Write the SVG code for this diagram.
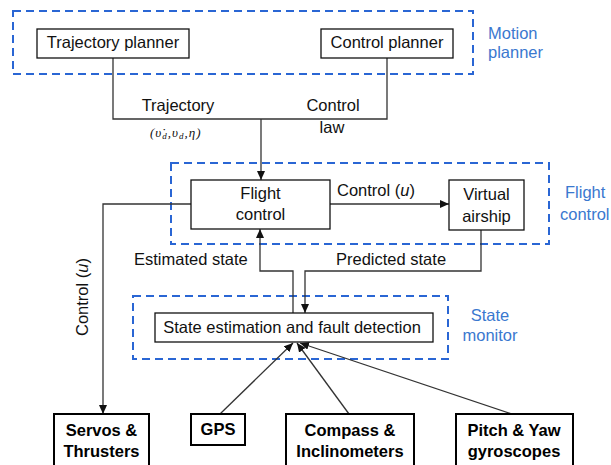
<svg xmlns="http://www.w3.org/2000/svg" width="611" height="465" viewBox="0 0 611 465">
<style>
text{font-family:"Liberation Sans",Arial,sans-serif;font-size:16.5px;fill:#111}
.mid{text-anchor:middle}
.bold{font-weight:bold;fill:#000}
.blue{fill:#3a78cf}
.group{fill:none;stroke:#2a66d4;stroke-width:2;stroke-dasharray:8 5}
.box{fill:#fff;stroke:#111;stroke-width:1.3}
.hw{fill:#fff;stroke:#000;stroke-width:2}
.conn{fill:none;stroke:#333;stroke-width:1.3}
.arr{marker-end:url(#ah)}
.math{font-family:"Liberation Serif","Times New Roman",serif;font-style:italic;font-size:13px;letter-spacing:1px}
</style>
<defs>
<marker id="ah" markerUnits="userSpaceOnUse" markerWidth="9" markerHeight="8" refX="9" refY="4" orient="auto">
<path d="M0,0 L9,4 L0,8 z" fill="#111"/>
</marker>
</defs>
<rect width="611" height="465" fill="#fff"/>

<g id="motion-planner">
<rect class="group" x="13" y="11" width="460" height="63"/>
<text class="blue" x="488" y="39">Motion</text>
<text class="blue" x="488" y="58">planner</text>
</g>
<g id="flight-control-group">
<rect class="group" x="171" y="163" width="378" height="81"/>
<text class="blue" x="565" y="198">Flight</text>
<text class="blue" x="560" y="220">control</text>
</g>
<g id="state-monitor">
<rect class="group" x="133" y="296" width="315" height="63"/>
<text class="blue mid" x="490" y="321">State</text>
<text class="blue mid" x="490" y="341">monitor</text>
</g>

<g id="connectors">
<polyline class="conn" points="113,58 113,119 387,119 387,58"/>
<line class="conn arr" x1="261" y1="119" x2="261" y2="180"/>
<line class="conn arr" x1="330" y1="204" x2="449" y2="204"/>
<polyline class="conn arr" points="191,204 103,204 103,414"/>
<polyline class="conn arr" points="293,313 293,271 260,271 260,229"/>
<polyline class="conn arr" points="481,230 481,271 305,271 305,313"/>
<line class="conn arr" x1="220" y1="414" x2="293" y2="343"/>
<line class="conn arr" x1="349" y1="414" x2="297" y2="343"/>
<line class="conn arr" x1="512" y1="414" x2="300" y2="343"/>
<text class="mid" x="178" y="111">Trajectory</text>
<text class="math" x="150" y="137">(<tspan>υ̇</tspan><tspan font-size="9" dy="2">d</tspan><tspan dy="-2">,υ</tspan><tspan font-size="9" dy="2">d</tspan><tspan dy="-2">,η)</tspan></text>
<text class="mid" x="333" y="111">Control</text>
<text class="mid" x="332" y="133">law</text>
<text x="337" y="196">Control (<tspan font-style="italic">u</tspan>)</text>
<text x="134" y="265">Estimated state</text>
<text x="336" y="265">Predicted state</text>
<text class="mid" transform="translate(88,297) rotate(-90)">Control (<tspan font-style="italic">u</tspan>)</text>
</g>

<g id="trajectory-planner">
<rect class="box" x="37" y="29" width="152" height="29"/>
<text class="mid" x="113" y="48">Trajectory planner</text>
</g>
<g id="control-planner">
<rect class="box" x="321" y="29" width="132" height="29"/>
<text class="mid" x="387" y="48">Control planner</text>
</g>
<g id="flight-control">
<rect class="box" x="191" y="180" width="139" height="49"/>
<text class="mid" x="260.5" y="199">Flight</text>
<text class="mid" x="260.5" y="220">control</text>
</g>
<g id="virtual-airship">
<rect class="box" x="449" y="180" width="75" height="50"/>
<text class="mid" x="486.5" y="200">Virtual</text>
<text class="mid" x="486.5" y="222">airship</text>
</g>
<g id="state-estimation">
<rect class="box" x="155" y="313" width="278" height="29"/>
<text class="mid" x="292" y="333">State estimation and fault detection</text>
</g>
<g id="servos">
<rect class="hw" x="54" y="414" width="95" height="60"/>
<text class="mid bold" x="101.5" y="436">Servos &amp;</text>
<text class="mid bold" x="101.5" y="457">Thrusters</text>
</g>
<g id="gps">
<rect class="hw" x="191" y="414" width="54" height="31"/>
<text class="mid bold" x="218" y="435">GPS</text>
</g>
<g id="compass">
<rect class="hw" x="286" y="414" width="128" height="60"/>
<text class="mid bold" x="350" y="436">Compass &amp;</text>
<text class="mid bold" x="350" y="457">Inclinometers</text>
</g>
<g id="gyroscopes">
<rect class="hw" x="456" y="414" width="117" height="60"/>
<text class="mid bold" x="514" y="436">Pitch &amp; Yaw</text>
<text class="mid bold" x="514" y="457">gyroscopes</text>
</g>
</svg>
